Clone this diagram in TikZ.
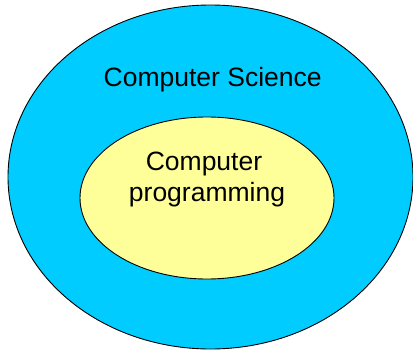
\documentclass[tikz,border=0pt]{standalone}
\usepackage{fontspec}
\setmainfont{Liberation Sans}
\definecolor{csblue}{HTML}{00CCFF}
\definecolor{cpyellow}{HTML}{FFFF99}
\begin{document}
\begin{tikzpicture}[x=1pt,y=-1pt,
  set/.style={draw=black,line width=0.9pt},
  lbl/.style={font=\fontsize{26.5}{31}\selectfont,anchor=base,inner sep=0pt}]
\useasboundingbox (0,0) rectangle (413,351);
\path[set,fill=csblue] (210.5,177) ellipse [x radius=202.5,y radius=172];
\path[set,fill=cpyellow] (207,198) ellipse [x radius=127,y radius=81];
\node[lbl] (cs) at (212.7,86) {Computer Science};
\node[lbl] (cp1) at (204,170) {Computer};
\node[lbl] (cp2) at (207,201) {programming};
\end{tikzpicture}
\end{document}
